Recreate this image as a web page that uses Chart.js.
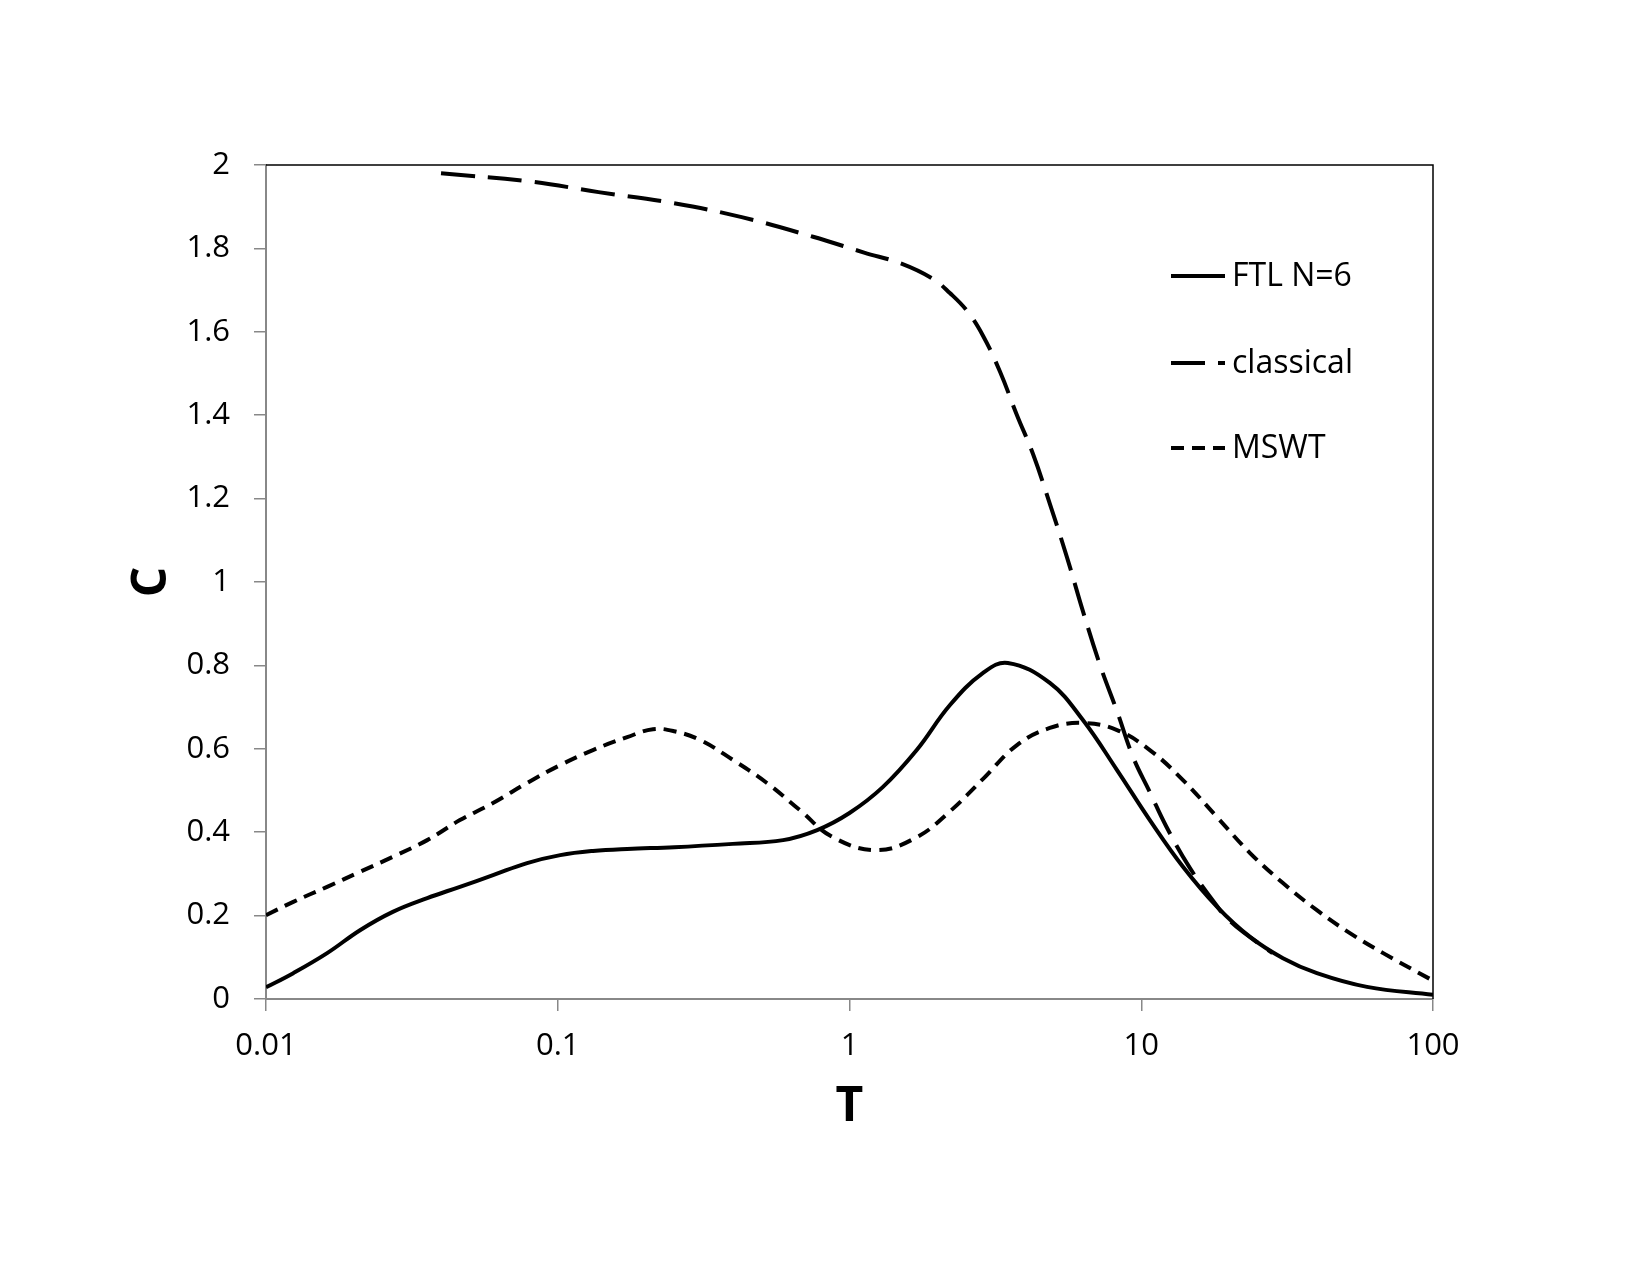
<!DOCTYPE html>
<html>
<head>
<meta charset="utf-8">
<script src="https://cdn.jsdelivr.net/npm/chart.js@4"></script>
<style>
  html, body { margin: 0; padding: 0; background: #ffffff; }
  canvas { display: block; }
</style>
</head>
<body>
<canvas id="c" width="1650" height="1275"></canvas>
<script>
// ---- Data ----
const seriesNames = ['FTL N=6', 'classical', 'MSWT'];

const ftlT = [0.01, 0.0124, 0.0162, 0.021, 0.0272, 0.0357, 0.0462, 0.06, 0.0785, 0.102, 0.132, 0.173,
              0.251, 0.398, 0.592, 0.775, 1.0, 1.3, 1.7, 2.21, 2.87, 3.49, 4.86, 6.31, 8.26, 10.7,
              13.9, 18.2, 23.6, 30.6, 40.0, 59.4, 100];
const ftlC = [0.028, 0.062, 0.11, 0.165, 0.209, 0.242, 0.269, 0.297, 0.326, 0.345, 0.355, 0.36,
              0.364, 0.372, 0.381, 0.405, 0.446, 0.508, 0.597, 0.705, 0.782, 0.806, 0.758, 0.669, 0.549, 0.429,
              0.317, 0.221, 0.149, 0.098, 0.062, 0.029, 0.01];

const classicalT = [0.0398, 0.0794, 0.138, 0.243, 0.427, 0.75, 1.122, 1.514, 1.932, 2.208, 2.529, 2.871,
                    3.281, 3.75, 4.256, 4.864, 5.572, 6.31, 7.228, 8.26, 9.376, 10.72, 12.16, 14.69,
                    18.49, 19.95, 22.39, 28.18];
const classicalC = [1.98, 1.961, 1.935, 1.91, 1.875, 1.828, 1.79, 1.763, 1.727, 1.693, 1.65, 1.59,
                    1.504, 1.40, 1.307, 1.187, 1.058, 0.93, 0.80, 0.69, 0.58, 0.495, 0.415, 0.314,
                    0.216, 0.19, 0.16, 0.11];

const mswtT = [0.01, 0.0124, 0.0162, 0.021, 0.0272, 0.0357, 0.0462, 0.06, 0.0785, 0.102, 0.132, 0.173,
               0.212, 0.251, 0.308, 0.399, 0.521, 0.676, 0.877, 1.24, 1.7, 2.21, 2.87, 3.75, 4.86, 6.31,
               8.26, 10.7, 13.9, 18.2, 23.6, 30.6, 40.0, 51.9, 67.5, 100];
const mswtC = [0.201, 0.233, 0.269, 0.305, 0.341, 0.381, 0.429, 0.47, 0.518, 0.561, 0.597, 0.628,
               0.647, 0.642, 0.621, 0.573, 0.518, 0.453, 0.388, 0.357, 0.388, 0.45, 0.528, 0.609, 0.65, 0.662,
               0.645, 0.597, 0.525, 0.436, 0.35, 0.278, 0.213, 0.158, 0.11, 0.044];

const xTickValues = [0.01, 0.1, 1, 10, 100];
const xTickLabels = ['0.01', '0.1', '1', '10', '100'];
const yTickLabels = ['0', '0.2', '0.4', '0.6', '0.8', '1', '1.2', '1.4', '1.6', '1.8', '2'];
const xTitle = 'T';
const yTitle = 'C';

// ---- Styles ----
const dashes = [[], [34, 13], [13, 8]];
const FONT = "'Open Sans', 'Liberation Sans', sans-serif";

function pts(xs, ys) { return xs.map((x, i) => ({ x: x, y: ys[i] })); }

const datasets = [
  { label: seriesNames[0], data: pts(ftlT, ftlC) },
  { label: seriesNames[1], data: pts(classicalT, classicalC) },
  { label: seriesNames[2], data: pts(mswtT, mswtC) }
].map((d, i) => Object.assign(d, {
  borderColor: '#000',
  backgroundColor: '#000',
  borderWidth: 4,
  borderDash: dashes[i],
  borderCapStyle: 'butt',
  pointRadius: 0,
  pointHoverRadius: 0,
  fill: false,
  tension: 0.4,
  cubicInterpolationMode: 'default'
}));

// frame on top and right, plus custom legend
const framePlugin = {
  id: 'frameLegend',
  afterDraw(chart) {
    const { ctx, chartArea: a } = chart;
    ctx.save();
    ctx.strokeStyle = '#000';
    ctx.lineWidth = 1.5;
    ctx.setLineDash([]);
    ctx.beginPath();
    ctx.moveTo(a.left, a.top);
    ctx.lineTo(a.right, a.top);
    ctx.lineTo(a.right, a.bottom);
    ctx.stroke();

    // legend
    const ys = [276, 363, 448];
    const x0 = 1171, x1 = 1225, tx = 1232;
    ctx.font = '32px ' + FONT;
    ctx.textBaseline = 'middle';
    ctx.textAlign = 'left';
    ctx.fillStyle = '#000';
    seriesNames.forEach((name, i) => {
      ctx.lineWidth = 4;
      ctx.lineCap = 'butt';
      ctx.setLineDash(dashes[i]);
      ctx.beginPath();
      ctx.moveTo(x0, ys[i]);
      ctx.lineTo(x1, ys[i]);
      ctx.stroke();
      ctx.setLineDash([]);
      ctx.fillText(name, tx, ys[i] + 1);
    });
    ctx.restore();
  }
};

new Chart(document.getElementById('c'), {
  type: 'line',
  data: { datasets: datasets },
  options: {
    responsive: false,
    animation: false,
    devicePixelRatio: 1,
    layout: { padding: { left: 0, top: 165, right: 217, bottom: 0 } },
    plugins: { legend: { display: false }, tooltip: { enabled: false } },
    scales: {
      x: {
        type: 'logarithmic',
        min: 0.01,
        max: 100,
        afterBuildTicks(scale) { scale.ticks = xTickValues.map(v => ({ value: v })); },
        afterFit(scale) { scale.height = 276; },
        ticks: {
          autoSkip: false,
          maxRotation: 0,
          padding: 17,
          color: '#000',
          font: { family: FONT, size: 31 },
          callback: function (value, index) { return xTickLabels[index]; }
        },
        grid: { display: true, drawOnChartArea: false, drawTicks: true, tickLength: 12, color: '#888', lineWidth: 1.5 },
        border: { display: true, color: '#888', width: 2 },
        title: {
          display: true,
          text: xTitle,
          color: '#000',
          font: { family: FONT, size: 48, weight: 'bold' },
          padding: { top: 0, bottom: 139 }
        }
      },
      y: {
        type: 'linear',
        min: 0,
        max: 2,
        afterBuildTicks(scale) { scale.ticks = yTickLabels.map(l => ({ value: parseFloat(l) })); },
        afterFit(scale) { scale.width = 266; },
        ticks: {
          padding: 24,
          color: '#000',
          font: { family: FONT, size: 31 },
          callback: function (value, index) { return yTickLabels[index]; }
        },
        grid: { display: true, drawOnChartArea: false, drawTicks: true, tickLength: 12, color: '#888', lineWidth: 1.5 },
        border: { display: true, color: '#888', width: 2 },
        title: {
          display: true,
          text: yTitle,
          color: '#000',
          font: { family: FONT, size: 48, weight: 'bold' },
          padding: { top: 124, bottom: 0 }
        }
      }
    }
  },
  plugins: [framePlugin]
});
</script>
</body>
</html>
